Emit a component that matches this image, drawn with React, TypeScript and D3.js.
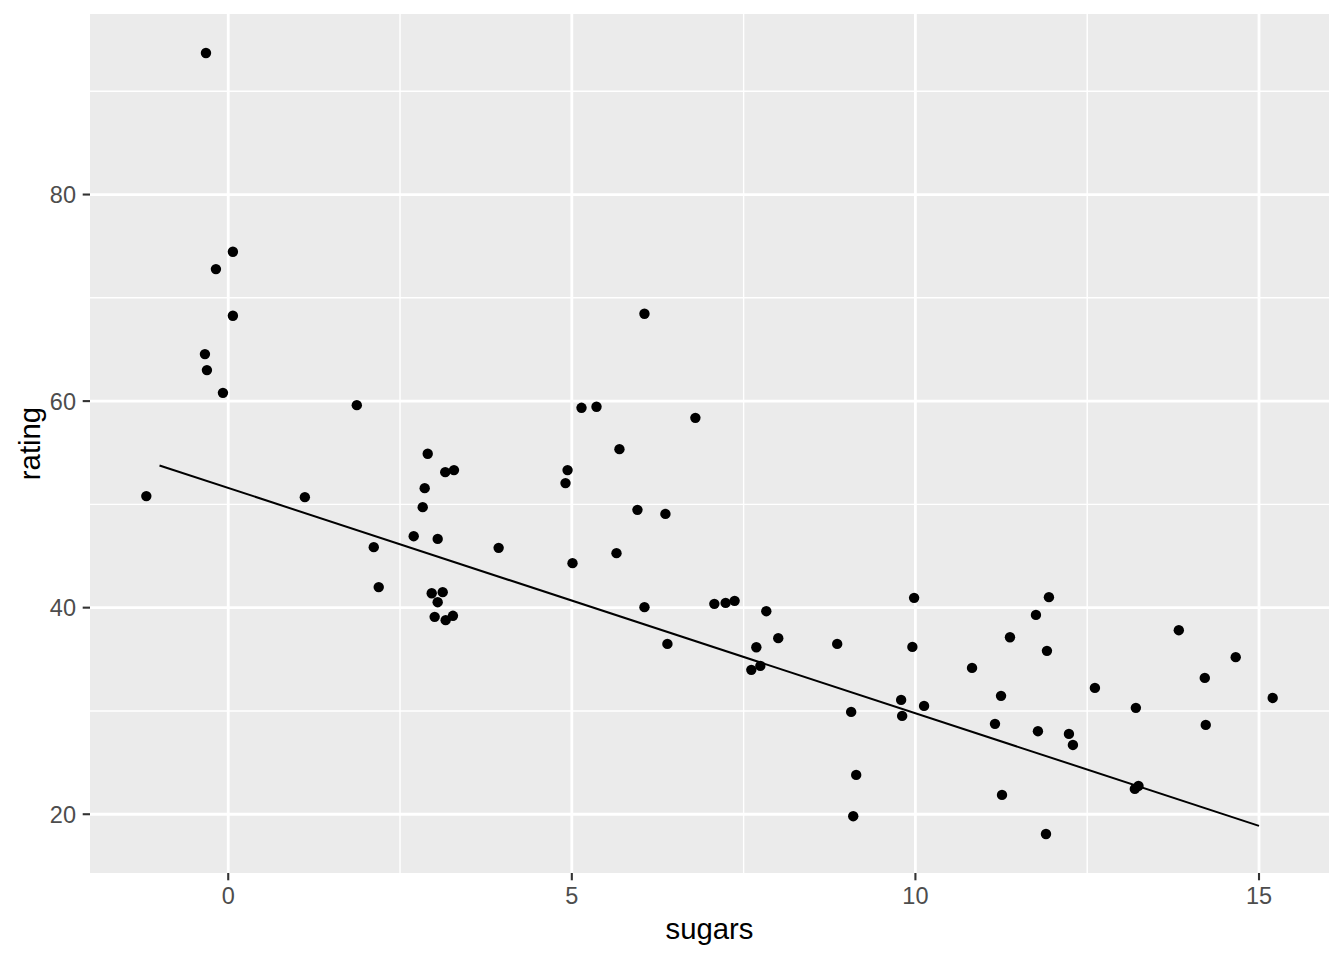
import React from "react";
import * as d3 from "d3";

// Jittered points (sugars vs rating)
const sugars: number[] = [
  -0.324, 0.068, -0.179, 0.068, -0.339, -0.31, -0.077, 1.871, 2.903, 3.158,
  3.285, 2.859, 2.83, -1.192, 1.115, 2.699, 3.048, 3.935, 2.118, 2.19,
  2.961, 3.121, 3.048, 3.004, 3.164, 3.27, 6.057, 5.141, 5.359, 6.798,
  5.693, 4.938, 4.908, 5.955, 6.362, 5.65, 5.01, 6.057, 7.074, 7.238,
  7.369, 9.981, 7.83, 8.004, 6.391, 8.862, 7.685, 9.956, 7.743, 7.612,
  9.792, 11.943, 11.754, 11.376, 13.833, 11.914, 10.824, 14.661, 14.211, 12.612,
  11.246, 15.199, 10.126, 13.208, 9.065, 9.807, 11.158, 14.225, 11.783, 12.234,
  12.292, 9.138, 11.26, 13.246, 13.193, 9.095, 11.9,
];
const rating: number[] = [
  93.7, 74.46, 72.78, 68.26, 64.55, 63.0, 60.8, 59.61, 54.9, 53.12,
  53.32, 51.57, 49.73, 50.8, 50.7, 46.92, 46.66, 45.79, 45.86, 41.99,
  41.4, 41.5, 40.53, 39.11, 38.79, 39.21, 68.46, 59.35, 59.45, 58.38,
  55.35, 53.32, 52.06, 49.47, 49.08, 45.28, 44.31, 40.05, 40.37, 40.46,
  40.66, 40.95, 39.66, 37.05, 36.49, 36.49, 36.17, 36.2, 34.36, 33.98,
  31.07, 41.02, 39.3, 37.14, 37.82, 35.82, 34.17, 35.21, 33.2, 32.23,
  31.46, 31.26, 30.49, 30.3, 29.91, 29.52, 28.75, 28.65, 28.04, 27.78,
  26.71, 23.81, 21.87, 22.74, 22.45, 19.81, 18.09,
];

// Linear fit (on unjittered sugars, range -1..15)
const fitIntercept = 51.59;
const fitSlope = -2.181;
const fitRange: [number, number] = [-1, 15];

const xTicks = [0, 5, 10, 15];
const xMinor = [-2.5, 2.5, 7.5, 12.5, 17.5];
const yTicks = [20, 40, 60, 80];
const yMinor = [10, 30, 50, 70, 90];

const xTitle = "sugars";
const yTitle = "rating";

export default function App() {
  const W = 1344;
  const H = 960;
  const left = 90, right = 1329, top = 14, bottom = 873;

  const xExt = d3.extent(sugars) as [number, number];
  const yExt = d3.extent(rating) as [number, number];
  const xPad = (xExt[1] - xExt[0]) * 0.05;
  const yPad = (yExt[1] - yExt[0]) * 0.05;

  const x = d3.scaleLinear().domain([xExt[0] - xPad, xExt[1] + xPad]).range([left, right]);
  const y = d3.scaleLinear().domain([yExt[0] - yPad, yExt[1] + yPad]).range([bottom, top]);

  const [xd0, xd1] = x.domain();
  const [yd0, yd1] = y.domain();
  const inX = (v: number) => v >= xd0 && v <= xd1;
  const inY = (v: number) => v >= yd0 && v <= yd1;

  const fitPts: [number, number][] = fitRange.map((s) => [s, fitIntercept + fitSlope * s]);
  const lineGen = d3
    .line<[number, number]>()
    .x((d) => x(d[0]))
    .y((d) => y(d[1]));

  const font = "'Liberation Sans', Arial, sans-serif";

  return (
    <svg
      width={W}
      height={H}
      style={{ position: "absolute", left: 0, top: 0, background: "#ffffff" }}
    >
      <rect x={0} y={0} width={W} height={H} fill="#ffffff" />
      <rect x={left} y={top} width={right - left} height={bottom - top} fill="#EBEBEB" />
      {/* minor grid */}
      {xMinor.filter(inX).map((v) => (
        <line key={"xm" + v} x1={x(v)} x2={x(v)} y1={top} y2={bottom} stroke="#ffffff" strokeWidth={1.4} />
      ))}
      {yMinor.filter(inY).map((v) => (
        <line key={"ym" + v} x1={left} x2={right} y1={y(v)} y2={y(v)} stroke="#ffffff" strokeWidth={1.4} />
      ))}
      {/* major grid */}
      {xTicks.map((v) => (
        <line key={"xg" + v} x1={x(v)} x2={x(v)} y1={top} y2={bottom} stroke="#ffffff" strokeWidth={2.8} />
      ))}
      {yTicks.map((v) => (
        <line key={"yg" + v} x1={left} x2={right} y1={y(v)} y2={y(v)} stroke="#ffffff" strokeWidth={2.8} />
      ))}
      {/* points */}
      {sugars.map((s, i) => (
        <circle key={"p" + i} cx={x(s)} cy={y(rating[i])} r={5.2} fill="#000000" />
      ))}
      {/* fit line */}
      <path d={lineGen(fitPts) || ""} fill="none" stroke="#000000" strokeWidth={2} />
      {/* x axis ticks */}
      {xTicks.map((v) => (
        <g key={"xt" + v}>
          <line x1={x(v)} x2={x(v)} y1={bottom} y2={bottom + 7.3} stroke="#333333" strokeWidth={2.1} />
          <text
            x={x(v)}
            y={bottom + 31}
            textAnchor="middle"
            fontFamily={font}
            fontSize={23.5}
            fill="#4D4D4D"
          >
            {v}
          </text>
        </g>
      ))}
      {/* y axis ticks */}
      {yTicks.map((v) => (
        <g key={"yt" + v}>
          <line x1={left - 7.3} x2={left} y1={y(v)} y2={y(v)} stroke="#333333" strokeWidth={2.1} />
          <text
            x={left - 14}
            y={y(v)}
            dy="0.36em"
            textAnchor="end"
            fontFamily={font}
            fontSize={23.5}
            fill="#4D4D4D"
          >
            {v}
          </text>
        </g>
      ))}
      {/* axis titles */}
      <text
        x={(left + right) / 2}
        y={939}
        textAnchor="middle"
        fontFamily={font}
        fontSize={29.3}
        fill="#000000"
      >
        {xTitle}
      </text>
      <text
        transform={`translate(39.5, ${(top + bottom) / 2}) rotate(-90)`}
        textAnchor="middle"
        fontFamily={font}
        fontSize={29.3}
        fill="#000000"
      >
        {yTitle}
      </text>
    </svg>
  );
}
